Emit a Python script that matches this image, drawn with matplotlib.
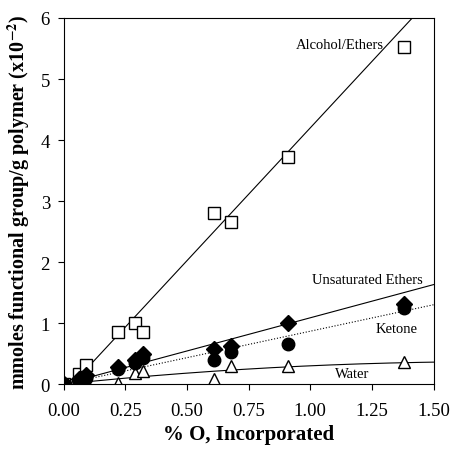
import numpy as np
import matplotlib.pyplot as plt

plt.rcParams['font.family'] = ['Liberation Serif', 'DejaVu Serif']
plt.rcParams['mathtext.fontset'] = 'stix'

# % O incorporated / mmoles functional group per g polymer (x10^-2)
alc_x = [0.0, 0.06, 0.09, 0.22, 0.29, 0.32, 0.61, 0.68, 0.91, 1.38]
alc_y = [0.0, 0.16, 0.32, 0.86, 1.00, 0.86, 2.80, 2.65, 3.72, 5.53]

unsat_x = [0.0, 0.06, 0.09, 0.22, 0.29, 0.32, 0.61, 0.68, 0.91, 1.38]
unsat_y = [0.0, 0.08, 0.15, 0.28, 0.40, 0.50, 0.57, 0.63, 1.00, 1.31]

ket_x = [0.0, 0.06, 0.09, 0.22, 0.29, 0.32, 0.61, 0.68, 0.91, 1.38]
ket_y = [0.0, 0.05, 0.10, 0.25, 0.34, 0.43, 0.40, 0.52, 0.65, 1.24]

wat_x = [0.0, 0.04, 0.06, 0.09, 0.22, 0.29, 0.32, 0.61, 0.68, 0.91, 1.38]
wat_y = [0.0, 0.02, 0.05, 0.05, 0.02, 0.18, 0.22, 0.08, 0.30, 0.30, 0.37]

# fitted trend lines
alc_fit = [4.35, -0.15]           # slope, intercept
unsat_fit = [1.087, 0.0]
ket_fit = [0.867, 0.0]
wat_fit = [-0.12, 0.42, 0.0]      # quadratic

fig = plt.figure(figsize=(4.53, 4.52), dpi=100)
ax = fig.add_axes([0.141, 0.148, 0.816, 0.810])

xx = np.linspace(0, 1.5, 200)
xa = np.linspace(-alc_fit[1] / alc_fit[0], 1.5, 200)
ax.plot(xa, np.polyval(alc_fit, xa), color='black', lw=0.8)
ax.plot(xx, np.polyval(unsat_fit, xx), color='black', lw=0.8)
ax.plot(xx, np.polyval(ket_fit, xx), color='black', lw=0.8, ls=':')
ax.plot(xx, np.polyval(wat_fit, xx), color='black', lw=0.8)

ax.plot(alc_x, alc_y, 's', ms=9, mfc='white', mec='black', mew=1.0, ls='none')
ax.plot(wat_x, wat_y, '^', ms=9, mfc='white', mec='black', mew=1.0, ls='none')
ax.plot(ket_x, ket_y, 'o', ms=9, mfc='black', mec='black', ls='none')
ax.plot(unsat_x, unsat_y, 'D', ms=8, mfc='black', mec='black', ls='none')

ax.text(1.12, 5.56, 'Alcohol/Ethers', fontsize=10.5, ha='center', va='center')
ax.text(1.23, 1.72, 'Unsaturated Ethers', fontsize=10.5, ha='center', va='center')
ax.text(1.35, 0.91, 'Ketone', fontsize=10.5, ha='center', va='center')
ax.text(1.17, 0.17, 'Water', fontsize=10.5, ha='center', va='center')

ax.set_xlim(0, 1.5)
ax.set_ylim(0, 6)
ax.set_xticks([0, 0.25, 0.5, 0.75, 1.0, 1.25, 1.5])
ax.set_xticklabels(['0.00', '0.25', '0.50', '0.75', '1.00', '1.25', '1.50'])
ax.set_yticks([0, 1, 2, 3, 4, 5, 6])
ax.tick_params(direction='out', length=4, width=0.8, labelsize=13.5)
ax.tick_params(axis='x', pad=9)
ax.tick_params(axis='y', pad=6)
for s in ax.spines.values():
    s.set_linewidth(0.8)

ax.set_xlabel('% O, Incorporated', fontsize=15, fontweight='bold')
ax.xaxis.set_label_coords(0.5, -0.11)
ax.set_ylabel('mmoles functional group/g polymer (x10$^{\\mathbf{-2}}$)',
              fontsize=14.5, fontweight='bold')
ax.yaxis.set_label_coords(-0.085, 0.5)

fig.savefig('out.png', dpi=100)
